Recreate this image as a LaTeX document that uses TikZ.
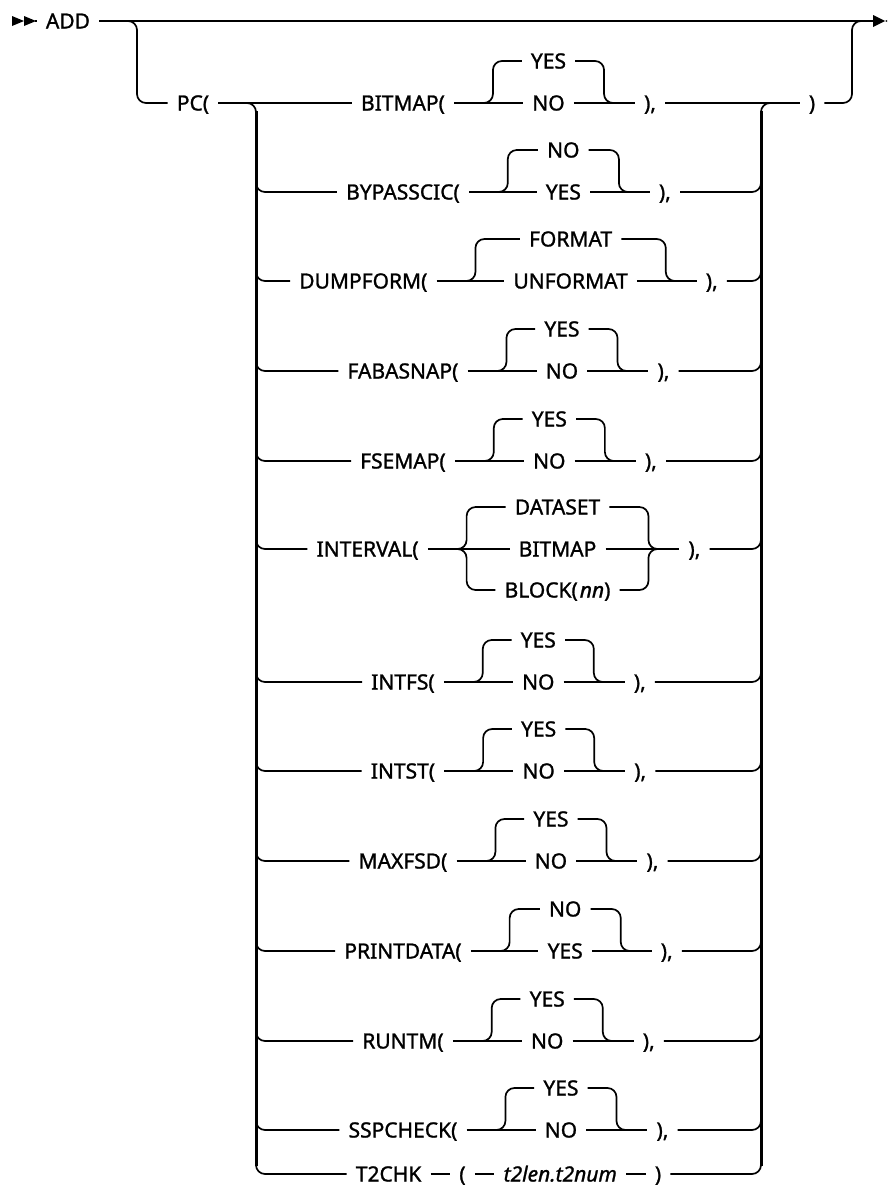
\documentclass[tikz,border=0pt]{standalone}
\usepackage{fontspec}
\setmainfont{Noto Sans}
\newfontfamily\rfam{Noto Sans}[FakeBold=1.2]
\newlength\lenK \newlength\lenD \newlength\lenE
\newcommand\rf{\rfam\fontsize{21}{24}\selectfont}
\def\midx{508.5}\def\sega{48}\def\segb{40}\def\cpad{38}\def\rdy{42}\def\rrc{9pt}\def\tgap{38}
\def\lvx{256}\def\rvx{761}
\tikzset{
 ln/.style={line width=1.7pt},
 vbar/.style={line width=3pt},
 mbar/.style={line width=2.3pt},
 lbl/.style={inner xsep=9pt,inner ysep=0pt,text height=15pt,text depth=0pt,font=\rf},
}
\newcommand\msr[1]{\settowidth\lenK{\rf #1}\expandafter\xdef\csname W:#1\endcsname{\the\lenK}}
\newcommand\optrow[5]{%
  \edef\wK{\csname W:#3\endcsname}\edef\wA{\csname W:#4\endcsname}%
  \edef\wB{\csname W:#5\endcsname}\edef\wC{\csname W:),\endcsname}%
  \pgfmathsetmacro\rCw{max(\wA,\wB)+2*\cpad}%
  \pgfmathsetmacro\rTot{\wK+\sega+\rCw+\segb+\wC}%
  \pgfmathsetmacro\rXs{\midx-\rTot/2}%
  \pgfmathsetmacro\rXk{\rXs+\wK/2}%
  \pgfmathsetmacro\rXja{\rXs+\wK+\sega}%
  \pgfmathsetmacro\rXjb{\rXja+\rCw}%
  \pgfmathsetmacro\rXo{(\rXja+\rXjb)/2}%
  \pgfmathsetmacro\rXc{\rXjb+\segb+\wC/2}%
  \pgfmathsetmacro\rYu{#2-\rdy}%
  \node[lbl] (#1k) at (\rXk,#2) {#3};
  \node[lbl] (#1a) at (\rXo,\rYu) {#4};
  \node[lbl] (#1b) at (\rXo,#2) {#5};
  \node[lbl] (#1c) at (\rXc,#2) {),};
  \coordinate (#1j) at (\rXja,#2);
  \coordinate (#1J) at (\rXjb,#2);
  \draw[ln] (#1k) -- (#1b) -- (#1c);
  \draw[ln,rounded corners=\rrc] ([xshift=-\rrc]#1j) -- (#1j) |- (#1a);
  \draw[ln,rounded corners=\rrc] (#1a) -| (#1J) -- ([xshift=\rrc]#1J);
}
\newcommand\sides[2]{%
  \coordinate (#1L) at (\lvx,#2);
  \coordinate (#1R) at (\rvx,#2);
  \draw[ln,rounded corners=\rrc] ([yshift=\rrc]#1L) -- (#1L) -- (#1k);
  \draw[ln,rounded corners=\rrc] (#1c) -- (#1R) -- ([yshift=\rrc]#1R);
}
\begin{document}
\msr{BITMAP(}\msr{BYPASSCIC(}\msr{DUMPFORM(}\msr{FABASNAP(}\msr{FSEMAP(}\msr{INTERVAL(}%
\msr{INTFS(}\msr{INTST(}\msr{MAXFSD(}\msr{PRINTDATA(}\msr{RUNTM(}\msr{SSPCHECK(}%
\msr{YES}\msr{NO}\msr{FORMAT}\msr{UNFORMAT}\msr{DATASET}\msr{BITMAP}\msr{),}%
\msr{T2CHK}\msr{(}\msr{)}%
\settowidth\lenD{\rf BLOCK(\kern2pt\textit{nn})}%
\settowidth\lenE{\rf\itshape t2len.t2num}%
\begin{tikzpicture}[x=1pt,y=-1pt]
\useasboundingbox (0,0) rectangle (887,1186);
\clip (0,0) rectangle (887,1186);
% start and end marks
\fill (12,16) -- (24,21) -- (12,26) -- cycle;
\fill (24,16) -- (36,21) -- (24,26) -- cycle;
\coordinate (st) at (35,21);
\node[lbl] (add) at (68,21) {ADD};
\draw[ln] (st) -- (add);
\coordinate (fin) at (874,21);
\draw[ln] (add) -- (fin);
\fill (873,15) -- (885,21) -- (873,27) -- cycle;
\fill (885,21) -- (897,15) -- (897,27) -- cycle;
% PC( branch
\coordinate (pcj) at (137,21);
\node[lbl] (pc) at (193,103) {PC(};
\draw[ln,rounded corners=\rrc] ([xshift=-\rrc]pcj) -- (pcj) |- (pc);
\draw[mbar] (137,30) -- (137,94);
% big verticals
\coordinate (lvt) at (\lvx,103);
\coordinate (rvt) at (\rvx,103);
\draw[ln,rounded corners=\rrc] ([xshift=-\rrc]lvt) -- (lvt) -- ([yshift=-\rrc]lvt);
\draw[ln,rounded corners=\rrc] ([yshift=-\rrc]rvt) -- (rvt) -- ([xshift=\rrc]rvt);
\draw[vbar] (\lvx,111) -- (\lvx,1166);
\draw[vbar] (\rvx,111) -- (\rvx,1166);
% rows
\optrow{r1}{103}{BITMAP(}{YES}{NO}
\optrow{r2}{192}{BYPASSCIC(}{NO}{YES}
\optrow{r3}{281}{DUMPFORM(}{FORMAT}{UNFORMAT}
\optrow{r4}{371}{FABASNAP(}{YES}{NO}
\optrow{r5}{461}{FSEMAP(}{YES}{NO}
\optrow{r7}{682}{INTFS(}{YES}{NO}
\optrow{r8}{771}{INTST(}{YES}{NO}
\optrow{r9}{861}{MAXFSD(}{YES}{NO}
\optrow{r10}{951}{PRINTDATA(}{NO}{YES}
\optrow{r11}{1041}{RUNTM(}{YES}{NO}
\optrow{r12}{1130}{SSPCHECK(}{YES}{NO}
% INTERVAL row
\edef\wK{\csname W:INTERVAL(\endcsname}\edef\wA{\csname W:DATASET\endcsname}%
\edef\wB{\csname W:BITMAP\endcsname}\edef\wC{\csname W:),\endcsname}%
\pgfmathsetmacro\rCw{max(\wA,\wB,\lenD)+2*\cpad}%
\pgfmathsetmacro\rTot{\wK+\sega+\rCw+\segb+\wC}%
\pgfmathsetmacro\rXs{\midx-\rTot/2}%
\pgfmathsetmacro\rXk{\rXs+\wK/2}%
\pgfmathsetmacro\rXja{\rXs+\wK+\sega}%
\pgfmathsetmacro\rXjb{\rXja+\rCw}%
\pgfmathsetmacro\rXo{(\rXja+\rXjb)/2}%
\pgfmathsetmacro\rXc{\rXjb+\segb+\wC/2}%
\node[lbl] (r6k) at (\rXk,549) {INTERVAL(};
\node[lbl] (r6a) at (\rXo,507) {DATASET};
\node[lbl] (r6b) at (\rXo,549) {BITMAP};
\node[lbl] (r6d) at (\rXo,590) {BLOCK(\kern2pt\textit{nn})};
\node[lbl] (r6c) at (\rXc,549) {),};
\coordinate (r6j) at (\rXja,549);
\coordinate (r6J) at (\rXjb,549);
\draw[ln] (r6k) -- (r6b) -- (r6c);
\draw[ln,rounded corners=\rrc] ([xshift=-\rrc]r6j) -- (r6j) |- (r6a);
\draw[ln,rounded corners=\rrc] (r6a) -| (r6J) -- ([xshift=\rrc]r6J);
\draw[ln,rounded corners=\rrc] ([xshift=-\rrc]r6j) -- (r6j) |- (r6d);
\draw[ln,rounded corners=\rrc] (r6d) -| (r6J) -- ([xshift=\rrc]r6J);
% T2CHK row
\edef\wK{\csname W:T2CHK\endcsname}\edef\wA{\csname W:(\endcsname}\edef\wC{\csname W:)\endcsname}%
\pgfmathsetmacro\rTot{\wK+\wA+\lenE+\wC+3*\tgap}%
\pgfmathsetmacro\rXs{\midx-\rTot/2}%
\pgfmathsetmacro\rXk{\rXs+\wK/2}%
\pgfmathsetmacro\rXa{\rXs+\wK+\tgap+\wA/2}%
\pgfmathsetmacro\rXb{\rXs+\wK+\wA+2*\tgap+\lenE/2}%
\pgfmathsetmacro\rXc{\rXs+\wK+\wA+\lenE+3*\tgap+\wC/2}%
\node[lbl] (r13k) at (\rXk,1174) {T2CHK};
\node[lbl] (r13a) at (\rXa,1174) {(};
\node[lbl] (r13b) at (\rXb,1174) {\itshape t2len.t2num};
\node[lbl] (r13c) at (\rXc,1174) {)};
\draw[ln] (r13k) -- (r13a) -- (r13b) -- (r13c);
% side connections
\sides{r2}{192}\sides{r3}{281}\sides{r4}{371}\sides{r5}{461}\sides{r6}{549}
\sides{r7}{682}\sides{r8}{771}\sides{r9}{861}\sides{r10}{951}\sides{r11}{1041}
\sides{r12}{1130}\sides{r13}{1174}
% first row ends
\draw[ln] (pc) -- (r1k);
\node[lbl] (cp) at (812,103) {)};
\draw[ln] (r1c) -- (cp);
\coordinate (ej) at (852,103);
\coordinate (ejt) at (852,21);
\draw[ln,rounded corners=\rrc] (cp) -- (ej) -- (ejt) -- ([xshift=\rrc]ejt);
\draw[mbar] (852,30) -- (852,94);
\end{tikzpicture}
\end{document}
